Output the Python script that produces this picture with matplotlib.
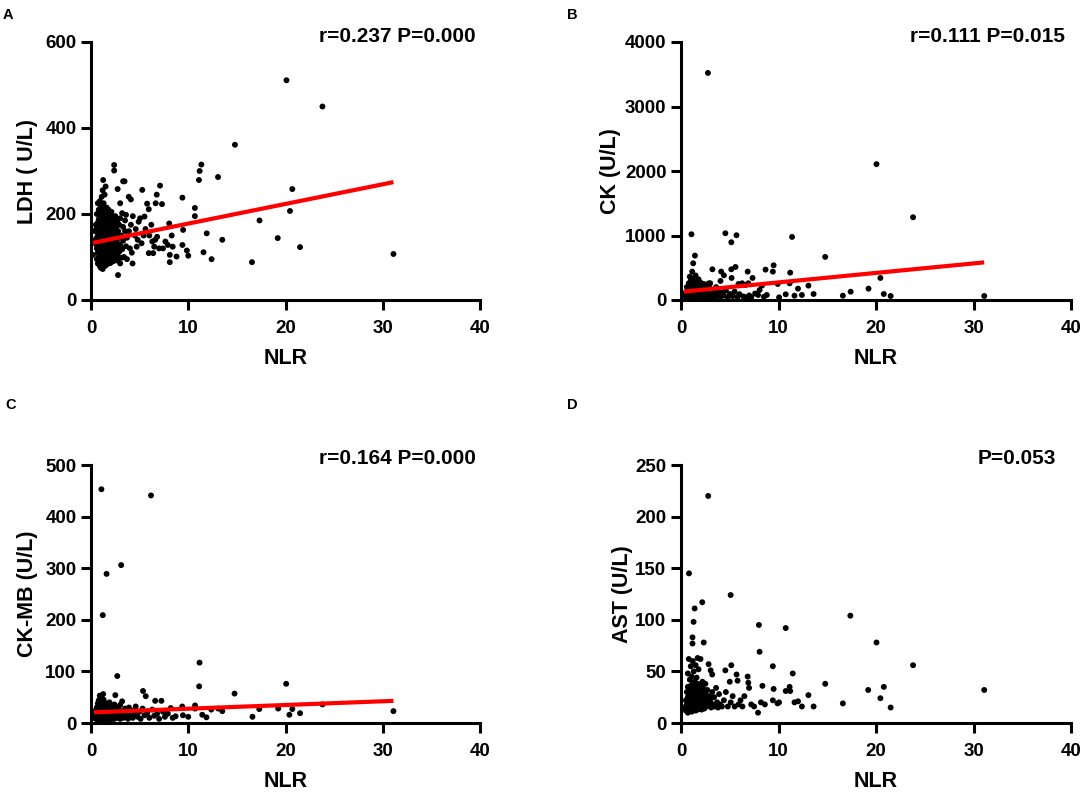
import matplotlib
matplotlib.use("Agg")
import matplotlib.pyplot as plt
import numpy as np

plt.rcParams['font.family'] = ['Liberation Sans', 'DejaVu Sans']
plt.rcParams['font.weight'] = 'bold'

# ---------------- data (NLR, value) ----------------
ldh_points = [
    (0.2,105),(0.4,160),(0.5,130),(0.5,175),(0.6,95),(0.6,120),(0.6,145),(0.6,200),(0.55,165),(0.45,140),
    (0.7,85),(0.7,110),(0.7,135),(0.7,155),(0.7,180),(0.7,225),(0.8,90),(0.8,100),(0.8,118),(0.8,128),
    (0.8,142),(0.8,150),(0.8,162),(0.8,170),(0.8,188),(0.8,210),(0.9,80),(0.9,95),(0.9,105),(0.9,115),
    (0.9,125),(0.9,138),(0.9,148),(0.9,158),(0.9,168),(0.9,178),(0.9,195),(0.9,230),
    (1.0,75),(1.0,88),(1.0,98),(1.0,108),(1.0,120),(1.0,130),(1.0,140),(1.0,152),(1.0,160),(1.0,172),
    (1.0,185),(1.0,200),(1.0,218),(1.1,82),(1.1,92),(1.1,103),(1.1,113),(1.1,124),(1.1,135),(1.1,146),
    (1.1,156),(1.1,166),(1.1,178),(1.1,190),(1.1,205),(1.1,240),(1.2,72),(1.2,86),(1.2,96),(1.2,106),
    (1.2,118),(1.2,128),(1.2,138),(1.2,150),(1.2,162),(1.2,174),(1.2,186),(1.2,198),(1.2,212),(1.2,255),
    (1.25,279),(1.3,78),(1.3,90),(1.3,100),(1.3,112),(1.3,122),(1.3,133),(1.3,144),(1.3,155),(1.3,168),
    (1.3,180),(1.3,195),(1.3,225),(1.4,84),(1.4,95),(1.4,108),(1.4,118),(1.4,130),(1.4,140),(1.4,152),
    (1.4,163),(1.4,176),(1.4,190),(1.4,208),(1.4,245),(1.5,80),(1.5,92),(1.5,104),(1.5,115),(1.5,126),
    (1.5,137),(1.5,148),(1.5,160),(1.5,172),(1.5,185),(1.5,200),(1.5,264),(1.6,88),(1.6,100),(1.6,110),
    (1.6,122),(1.6,134),(1.6,146),(1.6,158),(1.6,170),(1.6,183),(1.6,196),(1.6,215),(1.7,84),(1.7,96),
    (1.7,106),(1.7,118),(1.7,130),(1.7,142),(1.7,154),(1.7,166),(1.7,180),(1.7,205),(1.8,90),(1.8,102),
    (1.8,114),(1.8,126),(1.8,138),(1.8,150),(1.8,162),(1.8,176),(1.8,192),(1.8,210),(1.9,95),(1.9,108),
    (1.9,120),(1.9,133),(1.9,145),(1.9,158),(1.9,172),(1.9,188),(1.9,202),(2.0,86),(2.0,100),(2.0,112),
    (2.0,128),(2.0,140),(2.0,155),(2.0,168),(2.0,182),(2.0,198),(2.1,92),(2.1,105),(2.1,118),(2.1,135),
    (2.1,150),(2.1,165),(2.1,178),(2.1,205),(2.2,98),(2.2,112),(2.2,125),(2.2,142),(2.2,158),(2.2,172),
    (2.2,190),(2.3,90),(2.3,106),(2.3,120),(2.3,136),(2.3,152),(2.3,168),(2.3,185),(2.4,100),(2.4,115),
    (2.4,130),(2.4,148),(2.4,165),(2.4,180),(2.38,314),(2.38,301),(2.5,95),(2.5,110),(2.5,125),(2.5,145),
    (2.5,160),(2.5,178),(2.5,195),(2.6,105),(2.6,135),(2.6,150),(2.6,170),(2.7,92),(2.7,120),(2.7,142),
    (2.7,185),(2.8,100),(2.8,130),(2.8,160),(2.78,58),(2.74,258),(2.9,112),(2.9,145),(2.9,175),(3.0,85),
    (3.0,225),(3.0,128),(3.0,190),(3.1,98),(3.1,150),(3.2,202),(3.2,118),(3.3,276),(3.3,138),(3.3,170),
    (3.45,276),(3.4,100),(3.5,160),(3.5,185),(3.6,198),(3.6,125),(3.7,145),(3.7,95),(3.88,240),(3.9,160),
    (4.0,120),(4.1,234),(4.1,175),(4.2,110),(4.27,85),(4.3,195),(4.5,150),(4.6,165),(4.7,124),(4.8,140),
    (4.9,182),(5.05,190),(5.2,132),(5.27,256),(5.4,150),(5.5,194),(5.6,165),(5.77,224),(5.94,211),(5.94,109),
    (6.0,150),(6.2,175),(6.3,136),(6.4,109),(6.5,124),(6.6,140),(6.65,225),(6.76,245),(6.8,147),(7.0,120),
    (7.1,266),(7.3,223),(7.4,120),(7.65,136),(7.9,128),(8.04,178),(8.1,105),(8.1,88),(8.3,150),(8.4,124),
    (8.8,101),(9.4,238),(9.47,163),(9.4,128),(9.86,115),(10.0,103),(10.68,214),(10.68,195),(11.1,279),
    (11.17,300),(11.35,315),(11.57,111),(11.9,155),(12.4,95),(13.06,286),(13.5,140),(14.8,361),(16.55,88),
    (17.33,185),(19.2,144),(20.1,511),(20.46,207),(20.7,258),(21.5,123),(23.8,450),(31.1,107),
]

ck_points = [
    (0.3,80),(0.5,40),(0.5,120),(0.6,60),(0.6,200),(0.7,30),(0.7,90),(0.7,150),(0.8,50),(0.8,110),
    (0.8,180),(0.8,260),(0.9,20),(0.9,70),(0.9,130),(0.9,362),(1.0,40),(1.0,95),(1.0,160),(1.0,230),
    (1.0,300),(1.07,1019),(1.1,25),(1.1,75),(1.1,120),(1.1,190),(1.15,440),(1.2,50),(1.2,100),(1.2,150),
    (1.2,220),(1.2,330),(1.25,569),(1.3,30),(1.3,80),(1.3,130),(1.3,260),(1.4,60),(1.4,110),(1.4,170),
    (1.4,240),(1.43,688),(1.5,35),(1.5,90),(1.5,140),(1.5,210),(1.5,380),(1.6,55),(1.6,115),(1.6,180),
    (1.6,290),(1.7,25),(1.7,80),(1.7,150),(1.7,230),(1.8,45),(1.8,100),(1.8,170),(1.8,320),(1.9,70),
    (1.9,130),(1.9,200),(2.0,30),(2.0,90),(2.0,160),(2.0,270),(2.1,55),(2.1,120),(2.1,210),(2.2,40),
    (2.2,100),(2.2,180),(2.3,70),(2.3,140),(2.3,250),(2.4,35),(2.4,110),(2.5,60),(2.5,170),(2.6,90),
    (2.6,240),(2.7,40),(2.7,130),(2.76,3520),(2.8,75),(2.86,259),(2.9,190),(3.0,259),(3.0,50),(3.1,110),
    (3.2,160),(3.22,476),(3.3,70),(3.4,40),(3.5,120),(3.6,200),(3.7,60),(3.8,95),(3.9,150),(4.05,295),
    (4.1,50),(4.12,440),(4.2,110),(4.4,383),(4.4,70),(4.55,1035),(4.6,150),(4.8,40),(5.0,95),(5.16,476),
    (5.16,895),(5.19,342),(5.3,60),(5.5,130),(5.59,512),(5.69,1004),(5.8,45),(5.9,248),(6.0,90),(6.27,259),
    (6.4,55),(6.6,233),(6.7,40),(6.84,440),(6.9,259),(7.0,70),(7.2,40),(7.34,342),(7.6,100),(7.9,78),
    (8.06,155),(8.3,223),(8.5,50),(8.67,471),(8.8,78),(9.42,440),(9.5,538),(9.92,248),(10.06,41),(10.74,88),
    (11.14,259),(11.2,424),(11.39,978),(11.64,67),(12.0,176),(12.4,78),(13.07,223),(13.6,93),(14.79,668),
    (16.6,67),(17.4,129),(19.23,176),(20.05,2106),(20.45,342),(20.8,93),(21.5,62),(23.8,1283),(31.1,62),
]

ckmb_points = [
    (0.3,10),(0.4,18),(0.5,8),(0.5,25),(0.6,14),(0.6,30),(0.7,6),(0.7,20),(0.7,38),(0.8,12),(0.8,26),
    (0.8,44),(0.9,53),(0.9,9),(0.9,17),(0.9,32),(1.0,5),(1.0,14),(1.0,22),(1.0,40),(1.07,453),(1.1,10),
    (1.1,28),(1.1,48),(1.2,7),(1.2,18),(1.2,35),(1.21,209),(1.25,56),(1.3,12),(1.3,24),(1.3,45),(1.4,8),
    (1.4,20),(1.4,30),(1.5,15),(1.5,38),(1.6,289),(1.6,10),(1.6,26),(1.7,6),(1.7,18),(1.7,33),(1.8,12),
    (1.8,24),(1.9,9),(1.9,20),(1.9,40),(2.0,14),(2.0,28),(2.1,7),(2.1,18),(2.2,11),(2.2,32),(2.3,16),
    (2.3,24),(2.4,8),(2.4,36),(2.5,54),(2.5,13),(2.6,20),(2.6,30),(2.7,91),(2.7,10),(2.8,16),(2.9,25),
    (3.0,8),(3.0,35),(3.1,306),(3.1,14),(3.2,42),(3.2,22),(3.3,10),(3.4,18),(3.5,28),(3.6,12),(3.7,20),
    (3.8,8),(3.9,30),(4.0,15),(4.2,24),(4.3,10),(4.5,18),(4.6,32),(4.8,12),(5.0,22),(5.1,8),(5.3,28),
    (5.35,62),(5.5,15),(5.63,52),(5.8,20),(6.0,10),(6.17,441),(6.3,26),(6.5,14),(6.6,43),(6.8,18),(7.0,8),
    (7.24,43),(7.4,22),(7.6,12),(7.9,18),(8.2,29),(8.4,10),(8.7,13),(9.38,32),(9.45,15),(10.0,12),
    (10.7,34),(10.7,28),(11.12,71),(11.16,117),(11.44,16),(11.87,11),(12.37,26),(13.08,28),(13.5,23),
    (14.76,57),(16.6,12),(17.3,27),(19.25,28),(20.07,76),(20.4,16),(20.7,27),(21.5,19),(23.8,36),(31.1,23),
]

ast_points = [
    (0.3,15),(0.5,12),(0.5,22),(0.6,18),(0.6,30),(0.7,10),(0.7,25),(0.7,35),(0.7,48),(0.8,15),(0.8,20),
    (0.8,28),(0.8,62),(0.82,145),(0.9,12),(0.9,18),(0.9,24),(0.9,32),(0.9,42),(1.0,14),(1.0,20),(1.0,27),
    (1.0,36),(1.0,55),(1.1,11),(1.1,17),(1.1,23),(1.1,30),(1.1,45),(1.18,83),(1.18,77),(1.2,15),(1.2,21),
    (1.2,28),(1.2,38),(1.2,60),(1.29,98),(1.3,13),(1.3,19),(1.3,25),(1.3,33),(1.3,50),(1.4,111),(1.4,16),
    (1.4,22),(1.4,29),(1.4,40),(1.5,12),(1.5,18),(1.5,26),(1.5,35),(1.5,56),(1.6,15),(1.6,21),(1.6,30),
    (1.6,44),(1.7,13),(1.7,19),(1.7,25),(1.7,38),(1.7,63),(1.8,16),(1.8,23),(1.8,32),(1.8,52),(1.9,14),
    (1.9,20),(1.9,28),(2.0,17),(2.0,24),(2.0,36),(2.0,62),(2.1,13),(2.1,21),(2.1,30),(2.18,117),(2.2,16),
    (2.2,26),(2.2,40),(2.3,18),(2.3,33),(2.33,78),(2.4,14),(2.4,22),(2.5,19),(2.5,28),(2.5,38),(2.6,16),
    (2.6,24),(2.7,20),(2.7,32),(2.79,220),(2.83,57),(2.9,17),(2.9,26),(3.04,51),(3.0,22),(3.1,15),(3.2,47),
    (3.2,30),(3.3,18),(3.4,25),(3.5,16),(3.6,34),(3.7,20),(3.8,15),(3.9,28),(4.0,18),(4.2,16),(4.4,22),
    (4.55,51),(4.6,30),(4.8,16),(5.0,40),(5.09,124),(5.1,20),(5.16,56),(5.3,26),(5.5,16),(5.7,47),(5.8,41),
    (5.9,18),(6.1,22),(6.3,16),(6.5,26),(6.84,45),(6.9,39),(6.98,34),(7.2,18),(7.5,16),(7.9,10),(7.99,95),
    (8.06,69),(8.2,20),(8.35,36),(8.6,18),(9.42,22),(9.5,33),(9.42,55),(9.9,19),(10.06,20),(10.74,92),
    (10.74,31),(11.14,35),(11.2,31),(11.46,48),(11.64,20),(12.0,21),(12.4,16),(13.07,27),(13.6,16),
    (14.79,38),(16.6,19),(17.37,104),(19.2,32),(20.05,78),(20.45,24),(20.8,35),(21.5,15),(23.8,56),(31.1,32),
]

# fitted regression (intercept, slope); None = no line
ldh_fit = (132, 4.57)
ck_fit = (126, 14.7)
ckmb_fit = (20.5, 0.72)
ast_fit = None

panel_letters = ["A", "B", "C", "D"]
y_labels = ["LDH ( U/L)", "CK (U/L)", "CK-MB (U/L)", "AST (U/L)"]
stats_texts = ["r=0.237 P=0.000", "r=0.111 P=0.015", "r=0.164 P=0.000", "P=0.053"]
y_maxes = [600, 4000, 500, 250]
y_steps = [200, 1000, 100, 50]
x_ticks = [0, 10, 20, 30, 40]

# ---------------- layout ----------------
W, H = 1084, 796
fig = plt.figure(figsize=(W / 100, H / 100), dpi=100)
fig.patch.set_facecolor("white")

# (left px, top px, right px, bottom px)
boxes = [(91, 42, 480, 300), (681, 42, 1071, 300),
         (91, 465, 480, 723), (681, 465, 1071, 723)]
ylabel_x = [-0.137, -0.153, -0.137, -0.122]
letter_pos = [(3, 15), (567, 15), (5, 405), (567, 405)]
stats_pos = [(476, 36), (1065, 36), (476, 459), (1056, 459)]

all_points = [ldh_points, ck_points, ckmb_points, ast_points]
fits = [ldh_fit, ck_fit, ckmb_fit, ast_fit]

for i in range(4):
    l, t, r, b = boxes[i]
    ax = fig.add_axes([l / W, 1 - b / H, (r - l) / W, (b - t) / H])
    pts = np.array(all_points[i], dtype=float)
    xs, ys = pts[:, 0], pts[:, 1]
    ax.scatter(xs, ys, s=18, c="black", edgecolors="none", zorder=3, clip_on=False)
    if fits[i] is not None:
        b0, b1 = fits[i]
        fx = np.array([xs.min(), xs.max()])
        ax.plot(fx, b0 + b1 * fx, color="#ff0000", lw=3.0, zorder=4,
                solid_capstyle="butt")
    ax.set_xlim(0, 40)
    ax.set_ylim(0, y_maxes[i])
    ax.set_xticks(x_ticks)
    ax.set_yticks(np.arange(0, y_maxes[i] + 1, y_steps[i]))
    for sp in ["top", "right"]:
        ax.spines[sp].set_visible(False)
    for sp in ["left", "bottom"]:
        ax.spines[sp].set_linewidth(2.2)
        ax.spines[sp].set_color("black")
    ax.tick_params(axis="both", direction="out", length=7.5, width=2.2,
                   labelsize=13.5, colors="black")
    ax.tick_params(axis="x", pad=7)
    ax.tick_params(axis="y", pad=3)
    for lab in ax.get_xticklabels() + ax.get_yticklabels():
        lab.set_fontweight("bold")
    ax.set_xlabel("NLR", fontsize=15.5, fontweight="bold")
    ax.xaxis.set_label_coords(0.5, -0.186)
    ax.set_ylabel(y_labels[i], fontsize=15.5, fontweight="bold")
    ax.yaxis.set_label_coords(ylabel_x[i], 0.5)

    lx, ly = letter_pos[i]
    fig.text(lx / W, 1 - ly / H, panel_letters[i], fontsize=10.5,
             fontweight="bold", ha="left", va="center")
    sx, sy = stats_pos[i]
    fig.text(sx / W, 1 - sy / H, stats_texts[i], fontsize=15,
             fontweight="bold", ha="right", va="center")

fig.savefig("out.png", dpi=100, facecolor="white")
